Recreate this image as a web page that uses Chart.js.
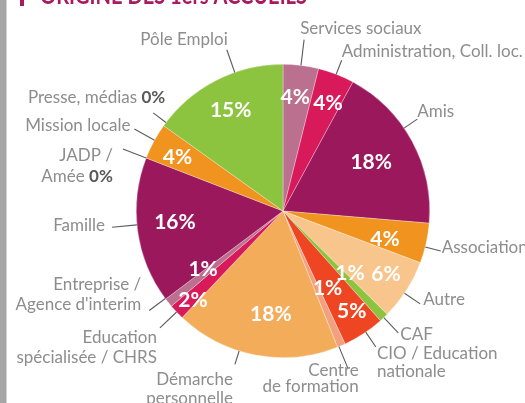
<!DOCTYPE html>
<html>
<head>
<meta charset="utf-8">
<script src="https://cdn.jsdelivr.net/npm/chart.js@4.4.0/dist/chart.umd.min.js"></script>
<style>
  html, body { margin: 0; padding: 0; background: #fff; }
  #wrap { position: relative; width: 525px; height: 403px; overflow: hidden; }
</style>
</head>
<body>
<div id="wrap"><canvas id="chart" width="525" height="403"></canvas></div>
<script>
// origine des accueils, in percent
var categories = ['Services sociaux', 'Administration, Coll. loc.', 'Amis', 'Association', 'Autre', 'CAF',
  'CIO / Education nationale', 'Centre de formation', 'Démarche personnelle', 'Education spécialisée / CHRS',
  "Entreprise / Agence d'interim", 'Famille', 'JADP / Amée', 'Mission locale', 'Presse, médias', 'Pôle Emploi'];
var shares = [3.9, 4.0, 18.4, 4.4, 6.7, 1.0, 4.6, 0.9, 18.1, 1.7, 1.0, 16.1, 0, 4.0, 0, 15.1];
var pctLabels = ['4%', '4%', '18%', '4%', '6%', '1%', '5%', '1%', '18%', '2%', '1%', '16%', '0%', '4%', '0%', '15%'];
var labelLines = [['Services sociaux'], ['Administration, Coll. loc.'], ['Amis'], ['Association'], ['Autre'], ['CAF'],
  ['CIO / Education', 'nationale'], ['Centre', 'de formation'], ['Démarche', 'personnelle'],
  ['Education', 'spécialisée / CHRS'], ['Entreprise /', "Agence d'interim"], ['Famille'], ['JADP /', 'Amée'],
  ['Mission locale'], ['Presse, médias'], ['Pôle Emploi']];
var colors = ['#bb7090', '#d81a5b', '#9c185d', '#f0931f', '#f8c68c', '#8cc33f', '#ee4623', '#f3a07e',
  '#f3ad5a', '#d81a5b', '#bb7090', '#9c185d', '#9c185d', '#f0931f', '#8cc33f', '#8cc33f'];

// label placement: [line angle shift (deg), line length, text dx, text dy, align, line gap]
var outerLayout = [
  [0, 26, -4, -6, 'left', 19], [0, 15, 0, -3, 'left', 19], [-6, 16, 0, -2, 'left', 19],
  [1.5, 16, 1, 2, 'left', 19], [1.4, 19, 3, 1, 'left', 19], [0, 21, 2, 7, 'left', 19],
  [-1, 18, 1, 12, 'left', 17.6], [1, 23, 11, 8, 'right', 16.3], [6.6, 14, -2, 21, 'right', 18.5],
  [0, 23, -3, 15, 'right', 20], [2, 20, -8, -21, 'right', 20], [2.4, 25, -7, 4, 'right', 19],
  [0, 25, -10, 12.5, 'right', 20.7], [0.5, 23, -4, 2, 'right', 19], [1.5, 16, 12, -10, 'right', 19],
  [8, 24, 1, -5, 'right', 19]
];
// percent inside slice: [radius factor, angle shift (deg)]
var innerLayout = [[0.79, -1], [0.8, 1.3], [0.69, -1], [0.72, 2.5], [0.82, -1.5], [0.62, -4],
  [0.82, -1.5], [0.6, -7], [0.7, -4], [0.86, -1], [0.67, 3], [0.74, 2.5], [0, 0], [0.81, -1], [0, 0], [0.78, 0]];

var labelFont = '17px Lato';
var boldFont = 'bold 17px Lato';
var grey = '#8d8d8d';

var decorPlugin = {
  id: 'decor',
  beforeDraw: function(chart) {
    var ctx = chart.ctx;
    ctx.save();
    ctx.fillStyle = '#a6a6a6';
    ctx.fillRect(0, 0, 6, 403);
    ctx.fillStyle = '#d2d2d2';
    ctx.fillRect(6, 0, 1, 403);
    ctx.fillStyle = '#a8195e';
    ctx.fillRect(20, 0, 4, 6);
    ctx.font = 'bold 24px Lato';
    ctx.textBaseline = 'alphabetic';
    ctx.fillText('ORIGINE DES 1ers ACCUEILS', 40, 4, 267);
    ctx.restore();
  },
  afterDraw: function(chart) {
    var ctx = chart.ctx;
    var arcs = chart.getDatasetMeta(0).data;
    ctx.save();
    arcs.forEach(function(arc, i) {
      var p = arc.getProps(['x', 'y', 'startAngle', 'endAngle', 'outerRadius'], true);
      var mid = (p.startAngle + p.endAngle) / 2;

      // value inside the slice
      if (shares[i] > 0) {
        var a = mid + innerLayout[i][1] * Math.PI / 180;
        var rr = p.outerRadius * innerLayout[i][0];
        ctx.font = 'bold 21px Lato';
        ctx.fillStyle = '#fff';
        ctx.textAlign = 'center';
        ctx.textBaseline = 'middle';
        ctx.fillText(pctLabels[i], p.x + rr * Math.cos(a), p.y + rr * Math.sin(a) + 1);
      }

      // leader line + category name
      var lay = outerLayout[i];
      var b = mid + lay[0] * Math.PI / 180;
      var x1 = p.x + p.outerRadius * Math.cos(b);
      var y1 = p.y + p.outerRadius * Math.sin(b);
      var x2 = p.x + (p.outerRadius + lay[1]) * Math.cos(b);
      var y2 = p.y + (p.outerRadius + lay[1]) * Math.sin(b);
      ctx.strokeStyle = '#5c5c5c';
      ctx.lineWidth = 1.1;
      ctx.beginPath();
      ctx.moveTo(x1, y1);
      ctx.lineTo(x2, y2);
      ctx.stroke();

      var tx = x2 + lay[2];
      var ty = y2 + lay[3];
      ctx.textBaseline = 'alphabetic';
      ctx.textAlign = lay[4];
      var lines = labelLines[i];
      for (var k = 0; k < lines.length; k++) {
        var yy = ty + k * lay[5];
        var last = k == lines.length - 1;
        if (last && shares[i] == 0) {
          // zero share: value written in bold after the name
          ctx.font = boldFont;
          var w = ctx.measureText(pctLabels[i]).width;
          ctx.fillStyle = '#5a5a5a';
          ctx.textAlign = 'right';
          ctx.fillText(pctLabels[i], tx, yy);
          ctx.font = labelFont;
          ctx.fillStyle = grey;
          ctx.fillText(lines[k] + ' ', tx - w, yy);
        } else {
          ctx.font = labelFont;
          ctx.fillStyle = grey;
          ctx.fillText(lines[k], tx, yy);
        }
      }
    });
    ctx.restore();
  }
};

var ctx = document.getElementById('chart');
var myPie = new Chart(ctx, {
  type: 'pie',
  data: {
    labels: categories,
    datasets: [{
      data: shares,
      backgroundColor: colors,
      borderColor: 'rgba(255,255,255,0.5)',
      borderWidth: 0.6,
      offset: 0,
      hoverOffset: 0,
      hoverBorderWidth: 0
    }]
  },
  options: {
    responsive: false,
    animation: false,
    layout: { padding: { left: 136, right: 95, top: 64, bottom: 45 } },
    plugins: {
      legend: { display: false },
      tooltip: { enabled: false }
    }
  },
  plugins: [decorPlugin]
});
</script>
</body>
</html>
